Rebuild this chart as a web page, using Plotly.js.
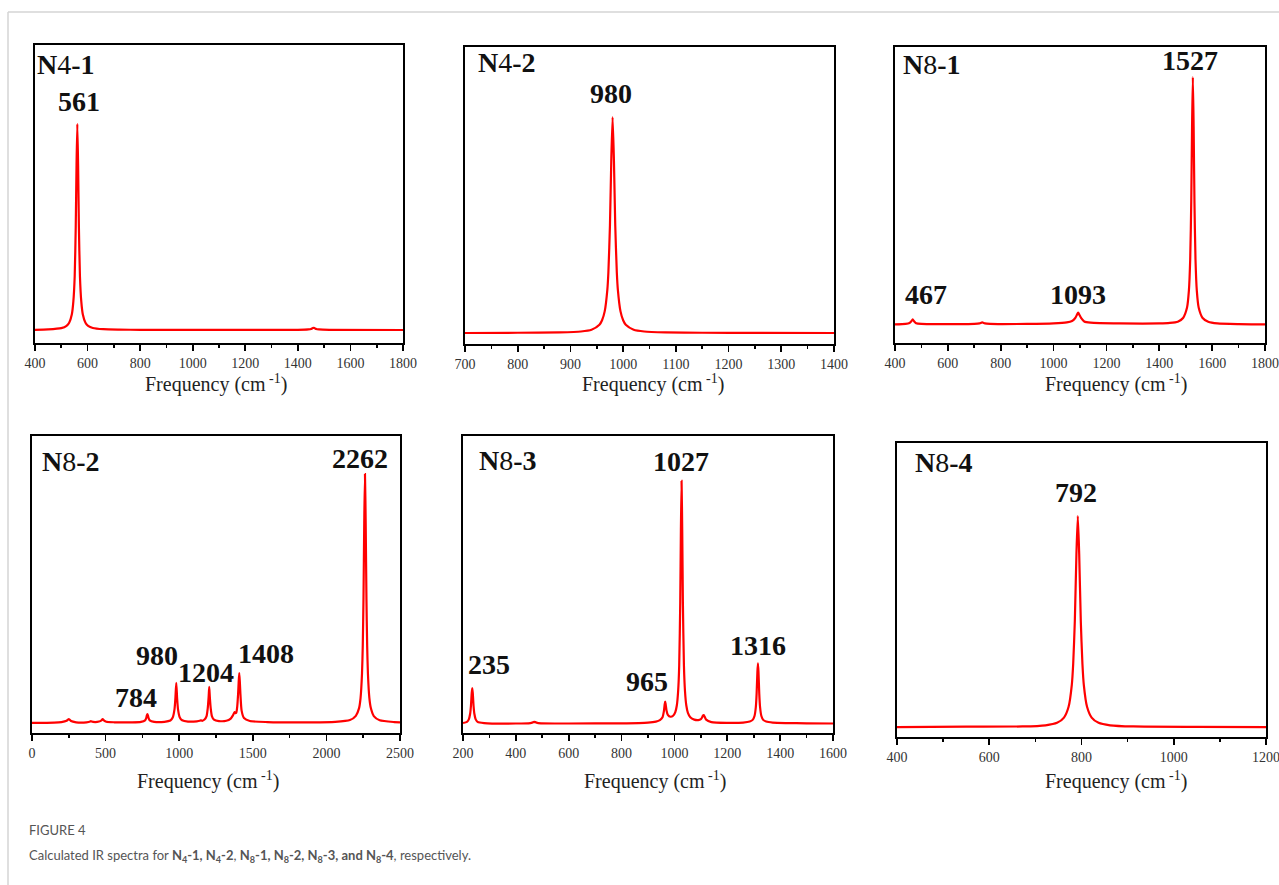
<!DOCTYPE html>
<html>
<head>
<meta charset="utf-8">
<script src="https://cdn.plot.ly/plotly-3.0.1.min.js"></script>
<style>
html,body{margin:0;padding:0;background:#fff;}
#chart{width:1279px;height:885px;}
</style>
</head>
<body>
<div id="chart"></div>
<script>
// ---------- DATA ----------
const panelNames = ["<b>N</b>4<b>-1</b>", "<b>N</b>4<b>-2</b>", "<b>N</b>8<b>-1</b>", "<b>N</b>8<b>-2</b>", "<b>N</b>8<b>-3</b>", "<b>N</b>8<b>-4</b>"];

// N4-1
const n41_x = [400, 450, 500, 520, 530, 540, 546, 551, 555, 558, 561, 564, 567, 571, 576, 582, 592, 602, 620, 660, 720, 800, 1000, 1400, 1440, 1450, 1456, 1460, 1464, 1470, 1480, 1520, 1800];
const n41_y = [0.1, 0.3, 0.9, 2.0, 3.5, 7.5, 14, 26, 50, 80, 100, 80, 50, 26, 14, 7.5, 3.5, 2.0, 1.0, 0.4, 0.2, 0.1, 0.05, 0.1, 0.3, 0.5, 0.9, 1.1, 0.9, 0.5, 0.3, 0.1, 0];
const n41_peaks = ["561"];

// N4-2
const n42_x = [700, 800, 880, 920, 940, 955, 960, 965, 970, 972, 975, 977.5, 980, 982.5, 985, 988, 990, 995, 1000, 1005, 1020, 1040, 1080, 1150, 1250, 1400];
const n42_y = [0, 0.1, 0.3, 0.7, 1.5, 3.8, 5.9, 10, 20, 28, 50, 80, 100, 80, 50, 28, 20, 10, 5.9, 3.8, 1.5, 0.7, 0.3, 0.1, 0.05, 0];
const n42_peaks = ["980"];

// N8-1
const n81_x = [400, 440, 455, 462, 467, 472, 480, 500, 600, 700, 720, 730, 740, 760, 900, 1000, 1050, 1070, 1082, 1088, 1093, 1098, 1104, 1116, 1140, 1250, 1400, 1440, 1470, 1490, 1505, 1512, 1517, 1521, 1524, 1527, 1530, 1533, 1537, 1542, 1549, 1564, 1585, 1620, 1700, 1800];
const n81_y = [0.2, 0.4, 0.8, 1.5, 2.2, 1.5, 0.7, 0.4, 0.3, 0.4, 0.6, 1.0, 0.6, 0.4, 0.4, 0.6, 1.0, 1.6, 2.8, 4.0, 5.0, 4.0, 2.8, 1.4, 0.9, 0.6, 0.6, 0.8, 1.3, 2.8, 7.0, 13.8, 26.5, 50, 80, 100, 80, 50, 26.5, 13.8, 7.0, 2.8, 1.3, 0.6, 0.3, 0.2];
const n81_peaks = ["1527", "467", "1093"];

// N8-2
const n82_x = [0, 150, 200, 235, 245, 250, 255, 265, 300, 370, 395, 400, 405, 430, 455, 472, 480, 488, 505, 560, 680, 740, 768, 776, 780, 784, 788, 792, 800, 830, 900, 940, 956, 968, 974, 980, 986, 992, 1004, 1020, 1060, 1120, 1140, 1148, 1156, 1172, 1186, 1194, 1200, 1204, 1208, 1214, 1222, 1236, 1270, 1320, 1350, 1366, 1376, 1382, 1388, 1394, 1400, 1404, 1408, 1412, 1416, 1424, 1440, 1480, 1600, 1900, 2060, 2160, 2200, 2222, 2232, 2242, 2247, 2252, 2257, 2262, 2267, 2272, 2277, 2282, 2292, 2302, 2322, 2362, 2460, 2500];
const n82_y = [0.1, 0.2, 0.4, 0.9, 1.4, 1.6, 1.4, 0.8, 0.3, 0.3, 0.6, 0.8, 0.6, 0.4, 0.6, 1.1, 1.6, 1.1, 0.5, 0.3, 0.3, 0.5, 1.1, 2.0, 3.0, 3.6, 3.0, 2.0, 1.1, 0.5, 0.5, 1.0, 2.2, 5.5, 9.8, 16.1, 9.8, 5.5, 2.2, 1.1, 0.6, 0.7, 0.9, 1.1, 0.9, 1.4, 2.8, 6.0, 10.5, 14.5, 10.5, 6.0, 2.8, 1.4, 0.8, 0.9, 1.8, 3.2, 4.4, 4.0, 4.2, 6.5, 11.5, 16.5, 20.1, 16.5, 11.5, 5.0, 2.0, 0.8, 0.4, 0.3, 0.5, 1.2, 2.9, 6.0, 10, 20, 31, 50, 80, 100, 80, 50, 31, 20, 10, 6.0, 2.8, 1.1, 0.4, 0.3];
const n82_peaks = ["2262", "980", "1204", "1408", "784"];

// N8-3
const n83_x = [200, 215, 222, 227, 230, 233, 235, 237, 240, 243, 248, 255, 280, 400, 455, 465, 470, 475, 485, 600, 800, 900, 930, 945, 955, 960, 963, 965, 967, 970, 975, 985, 995, 1003, 1009, 1014, 1018, 1022, 1024.5, 1027, 1029.5, 1032, 1036, 1040, 1045, 1051, 1060, 1075, 1090, 1100, 1105, 1108, 1111, 1114, 1120, 1140, 1200, 1260, 1285, 1296, 1303, 1308, 1311, 1314, 1316, 1318, 1321, 1324, 1329, 1336, 1347, 1372, 1420, 1500, 1600];
const n83_y = [0.4, 0.9, 1.9, 4.2, 7.4, 12.7, 14.8, 12.7, 7.4, 4.2, 1.9, 0.9, 0.4, 0.2, 0.4, 0.7, 0.9, 0.7, 0.4, 0.2, 0.3, 0.6, 1.0, 1.6, 2.8, 5.2, 8.0, 9.2, 8.0, 5.6, 3.8, 3.0, 3.4, 4.8, 7.6, 13.5, 24, 50, 80, 100, 80, 50, 24, 13.5, 7.6, 4.6, 2.8, 1.8, 1.6, 2.0, 2.8, 3.5, 3.7, 3.1, 1.8, 0.8, 0.5, 0.6, 1.0, 1.7, 3.3, 7.0, 12.5, 21.5, 25, 21.5, 12.5, 7.0, 3.3, 1.7, 1.0, 0.6, 0.4, 0.3, 0.2];
const n83_peaks = ["1027", "235", "965", "1316"];

// N8-4
const n84_x = [400, 550, 672, 722, 747, 762, 772, 779, 782, 785.5, 789, 792, 795, 798.5, 802, 805, 812, 822, 837, 862, 912, 1050, 1200];
const n84_y = [0, 0.2, 0.3, 0.85, 2.0, 4.5, 9.6, 20, 30, 50, 82, 100, 82, 50, 30, 20, 9.6, 4.5, 2.0, 0.85, 0.3, 0.1, 0];
const n84_peaks = ["792"];

const xTitle = "Frequency (cm<sup> -1</sup>)";
const captionHead = "FIGURE 4";
const captionText = "Calculated IR spectra for <b>N<sub>4</sub>-1, N<sub>4</sub>-2</b>, <b>N<sub>8</sub>-1, N<sub>8</sub>-2, N<sub>8</sub>-3, and N<sub>8</sub>-4</b>, respectively.";

// ---------- LAYOUT (pixel geometry) ----------
const W = 1279, H = 885;
const fx = p => p / W;
const fy = p => 1 - p / H;
const SERIF = "'Liberation Serif', 'Times New Roman', serif";

const series = [
  {x: n41_x, y: n41_y}, {x: n42_x, y: n42_y}, {x: n81_x, y: n81_y},
  {x: n82_x, y: n82_y}, {x: n83_x, y: n83_y}, {x: n84_x, y: n84_y}
];
const peakTexts = [n41_peaks, n42_peaks, n81_peaks, n82_peaks, n83_peaks, n84_peaks];

// panel boxes: [left, right, top, bottom] in px
const boxes = [
  [35, 403, 45, 343], [465, 834, 47, 344], [895, 1265, 47, 343],
  [32, 400, 436, 733], [463, 833, 436, 733], [897, 1266, 443, 737]
];
const xRanges = [[400, 1800], [700, 1400], [400, 1800], [0, 2500], [200, 1600], [400, 1200]];
const xDticks = [[200, 100], [100, 50], [200, 100], [500, 250], [200, 100], [200, 100]];
const yRanges = [[-6.3, 138.3], [-5.1, 132.4], [-7.3, 112.1], [-4.0, 115.3], [-3.7, 118.5], [-4.7, 134.6]];
// label positions (px centers)
const namePos = [[66, 64], [507, 63], [932, 64], [71, 461], [508, 460], [944, 462]];
const peakPos = [
  [[79, 101]],
  [[611, 93]],
  [[1190, 61], [926, 295], [1078, 295]],
  [[360, 458], [157, 655], [206, 672], [266, 653], [136, 697]],
  [[681, 461], [489, 664], [647, 681], [758, 645]],
  [[1076, 492]]
];
const titlePos = [[216, 383], [653, 383], [1116, 383], [208, 780], [655, 780], [1116, 780]];

const traces = [];
const layout = {
  width: W, height: H,
  margin: {l: 0, r: 0, t: 0, b: 0},
  paper_bgcolor: "#ffffff", plot_bgcolor: "#ffffff",
  showlegend: false,
  annotations: [], shapes: []
};

series.forEach((s, i) => {
  const k = i === 0 ? "" : String(i + 1);
  traces.push({
    type: "scatter", mode: "lines", x: s.x, y: s.y,
    xaxis: "x" + k, yaxis: "y" + k,
    line: {color: "#ff0000", width: 2.2, shape: "spline", smoothing: 0.6},
    hoverinfo: "skip"
  });
  const b = boxes[i];
  layout["xaxis" + k] = {
    domain: [fx(b[0]), fx(b[1])], range: xRanges[i], anchor: "y" + k,
    showline: true, linecolor: "#000", linewidth: 2, mirror: true,
    ticks: "outside", ticklen: 6, tickwidth: 1.6, tickcolor: "#000",
    tick0: 0, dtick: xDticks[i][0],
    minor: {ticks: "outside", ticklen: 3, tickwidth: 1.6, tickcolor: "#000", dtick: xDticks[i][1], tick0: 0, showgrid: false},
    showgrid: false, zeroline: false,
    ticklabeloverflow: "allow",
    tickfont: {family: SERIF, size: 14, color: "#333"}
  };
  layout["yaxis" + k] = {
    domain: [fy(b[3]), fy(b[2])], range: yRanges[i], anchor: "x" + k,
    showline: true, linecolor: "#000", linewidth: 2, mirror: true,
    ticks: "", showticklabels: false, showgrid: false, zeroline: false
  };
  layout.annotations.push({
    xref: "paper", yref: "paper", x: fx(namePos[i][0]), y: fy(namePos[i][1]),
    xanchor: "center", yanchor: "middle", showarrow: false,
    text: panelNames[i], font: {family: SERIF, size: 28, color: "#111"}
  });
  peakTexts[i].forEach((t, j) => {
    layout.annotations.push({
      xref: "paper", yref: "paper", x: fx(peakPos[i][j][0]), y: fy(peakPos[i][j][1]),
      xanchor: "center", yanchor: "middle", showarrow: false,
      text: "<b>" + t + "</b>", font: {family: SERIF, size: 28, color: "#111"}
    });
  });
  layout.annotations.push({
    xref: "paper", yref: "paper", x: fx(titlePos[i][0]), y: fy(titlePos[i][1]),
    xanchor: "center", yanchor: "middle", showarrow: false,
    text: xTitle, font: {family: SERIF, size: 20, color: "#222"}
  });
});

// caption
layout.annotations.push({
  xref: "paper", yref: "paper", x: fx(27), y: fy(830), xanchor: "left", yanchor: "middle",
  showarrow: false, text: captionHead, font: {family: "Lato, 'Open Sans', sans-serif", size: 13, color: "#555"}
});
layout.annotations.push({
  xref: "paper", yref: "paper", x: fx(27), y: fy(856), xanchor: "left", yanchor: "middle",
  showarrow: false, text: captionText, font: {family: "Lato, 'Open Sans', sans-serif", size: 13, color: "#555"}
});

// card border (top and left)
layout.shapes.push({type: "line", xref: "paper", yref: "paper", x0: fx(8), x1: 1, y0: fy(12), y1: fy(12), line: {color: "#d4d4d4", width: 1.5}});
layout.shapes.push({type: "line", xref: "paper", yref: "paper", x0: fx(8), x1: fx(8), y0: fy(12), y1: 0, line: {color: "#d4d4d4", width: 1.5}});

Plotly.newPlot("chart", traces, layout, {displayModeBar: false, staticPlot: true});
</script>
</body>
</html>
